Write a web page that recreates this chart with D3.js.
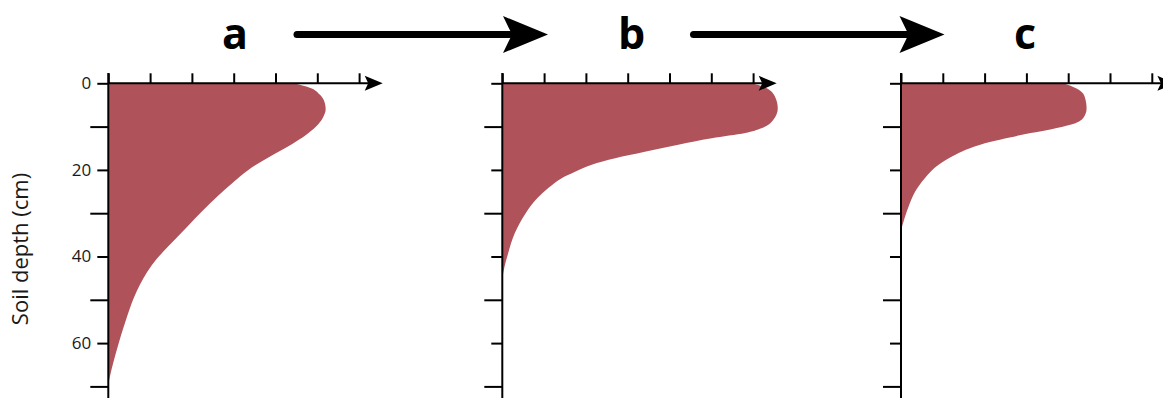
<!DOCTYPE html>
<html>
<head>
<meta charset="utf-8">
<script src="https://cdnjs.cloudflare.com/ajax/libs/d3/7.8.5/d3.min.js"></script>
<style>
  body { margin: 0; background: #fff; }
  svg { display: block; font-family: "Open Sans", sans-serif; }
</style>
</head>
<body>
<svg id="drawing_region"></svg>
<script>
// panel titles
const panelNames = ['a', 'b', 'c'];

// depth (cm) / relative amount
const depthsA = [0, 1, 2.5, 4, 6, 8, 10, 12, 14, 17, 20, 23, 26, 29.5, 33, 36, 39, 42, 45, 48, 51, 55, 58, 62, 66, 69.5];
const valuesA = [4.43, 4.82, 5.05, 5.16, 5.2, 5.13, 4.97, 4.72, 4.4, 3.85, 3.35, 2.97, 2.62, 2.25, 1.9, 1.6, 1.3, 1.04, 0.84, 0.68, 0.55, 0.41, 0.31, 0.19, 0.08, 0];

const depthsB = [0, 1, 3, 5.8, 8.5, 10.4, 11.5, 12.7, 14.2, 15.8, 17.3, 18.8, 20.4, 21.9, 24.2, 26.5, 30, 34.6, 39.6, 42.5, 45];
const valuesB = [5.97, 6.3, 6.52, 6.59, 6.48, 6.2, 5.81, 5.01, 4.21, 3.41, 2.7, 2.14, 1.74, 1.42, 1.1, 0.84, 0.56, 0.3, 0.13, 0.05, 0];

const depthsC = [0, 1.2, 3, 5.8, 8, 9.6, 10.6, 11.5, 12.5, 13.5, 15, 16.5, 18.8, 21.9, 25, 28, 31, 34];
const valuesC = [3.88, 4.2, 4.39, 4.44, 4.36, 4.05, 3.6, 3.1, 2.6, 2.15, 1.65, 1.3, 0.9, 0.57, 0.34, 0.2, 0.09, 0];

// ticks
const xTicks = [0, 1, 2, 3, 4, 5, 6];
const depthLabelTicks = [0, 20, 40, 60];
const depthMinorTicks = [10, 30, 50, 70];
const yTitle = 'Soil depth (cm)';

class ProfileChart {

    constructor(config, depths, values) {
        this.config = {
            parent: config.parent,
            left: config.left,
            top: config.top,
            innerWidth: config.innerWidth || 250.8,
            innerHeight: config.innerHeight || 303.1,
            showLabels: config.showLabels || false,
            fill: config.fill || '#b0525a'
        };
        this.data = depths.map((d, i) => ({ depth: d, value: values[i] }));
        this.init();
    }

    init() {
        let self = this;

        self.chart = d3.select(self.config.parent).append('g')
            .attr('transform', `translate(${self.config.left}, ${self.config.top})`);
        self.xScale = d3.scaleLinear()
            .domain([0, 6])
            .range([0, self.config.innerWidth]);
        self.yScale = d3.scaleLinear()
            .domain([0, 70])
            .range([0, self.config.innerHeight]);
    }

    update() {
        let self = this;
        const x = self.xScale, y = self.yScale;

        const area = d3.area()
            .y(d => y(d.depth))
            .x0(x(0))
            .x1(d => x(d.value))
            .curve(d3.curveMonotoneY);

        self.chart.append('path')
            .datum(self.data)
            .attr('d', area)
            .attr('fill', self.config.fill);

        // y axis: short labelled ticks, longer unlabelled ones
        const yMajor = self.chart.append('g')
            .call(d3.axisLeft(y)
                .tickValues(depthLabelTicks)
                .tickSize(11)
                .tickPadding(6)
                .tickFormat(self.config.showLabels ? d3.format('d') : ''));
        const yMinor = self.chart.append('g')
            .call(d3.axisLeft(y)
                .tickValues(depthMinorTicks)
                .tickSize(18)
                .tickFormat(''));
        const xAxis = self.chart.append('g')
            .call(d3.axisTop(x)
                .tickValues(xTicks)
                .tickSize(10)
                .tickFormat(''));

        [yMajor, yMinor, xAxis].forEach(g => {
            g.select('.domain').remove();
            g.selectAll('.tick line').attr('stroke', '#000').attr('stroke-width', 2);
        });
        yMajor.attr('font-size', 17)
            .attr('font-family', '"Open Sans", sans-serif');
        yMajor.selectAll('.tick text')
            .attr('fill', '#1a1a1a');

        // y axis line
        self.chart.append('line')
            .attr('x1', x(0)).attr('x2', x(0))
            .attr('y1', y(-2.4)).attr('y2', y(74))
            .attr('stroke', '#000').attr('stroke-width', 2);

        // x axis line with arrow head
        const tip = x(6) + 23.6;
        self.chart.append('line')
            .attr('x1', x(0)).attr('x2', tip - 14)
            .attr('y1', y(0)).attr('y2', y(0))
            .attr('stroke', '#000').attr('stroke-width', 2);
        self.chart.append('path')
            .attr('d', `M${tip},${y(0)} L${tip - 18},${y(0) - 7.5} L${tip - 14.5},${y(0)} L${tip - 18},${y(0) + 7.5} Z`)
            .attr('fill', '#000');
    }

}

const svg = d3.select('#drawing_region')
    .attr('width', 1163)
    .attr('height', 398);

const panels = [
    { left: 108.3, depths: depthsA, values: valuesA, title: 235 },
    { left: 502.3, depths: depthsB, values: valuesB, title: 631.5 },
    { left: 901, depths: depthsC, values: valuesC, title: 1025 }
];

panels.forEach((p, i) => {
    const chart = new ProfileChart({
        parent: '#drawing_region',
        left: p.left,
        top: 83.3,
        showLabels: i === 0
    }, p.depths, p.values);
    chart.update();

    svg.append('text')
        .attr('x', p.title)
        .attr('y', 49)
        .attr('text-anchor', 'middle')
        .attr('font-size', 43)
        .attr('font-weight', 'bold')
        .attr('fill', '#000')
        .text(panelNames[i]);

    // big arrow to the next panel
    if (i < panels.length - 1) {
        const start = p.title + 62, tip = p.title + 313;
        svg.append('line')
            .attr('x1', start).attr('x2', tip - 38)
            .attr('y1', 34.5).attr('y2', 34.5)
            .attr('stroke', '#000')
            .attr('stroke-width', 7)
            .attr('stroke-linecap', 'round');
        svg.append('path')
            .attr('d', `M${tip},34.5 L${tip - 45},16 L${tip - 36},34.5 L${tip - 45},53 Z`)
            .attr('fill', '#000');
    }
});

svg.append('text')
    .attr('transform', 'translate(28, 249) rotate(-90)')
    .attr('text-anchor', 'middle')
    .attr('font-size', 22)
    .attr('fill', '#1a1a1a')
    .text(yTitle);
</script>
</body>
</html>
